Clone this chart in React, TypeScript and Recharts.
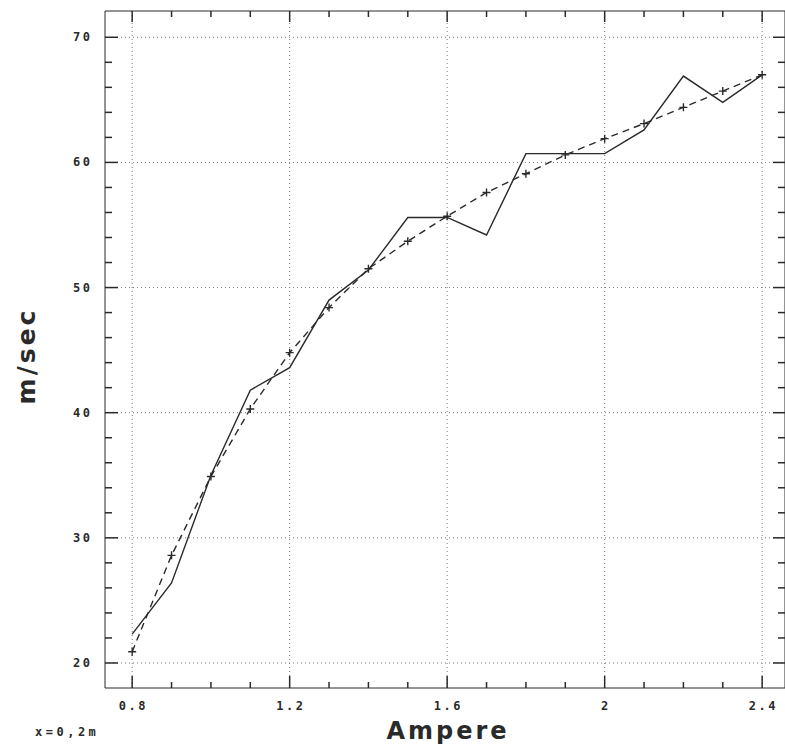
import { ComposedChart, Line, Scatter, XAxis, YAxis, CartesianGrid } from 'recharts';

// current in ampere, measured speed and fitted curve (m/sec)
const amps = [0.8, 0.9, 1.0, 1.1, 1.2, 1.3, 1.4, 1.5, 1.6, 1.7, 1.8, 1.9, 2.0, 2.1, 2.2, 2.3, 2.4];
const measured = [22.3, 26.4, 35.0, 41.8, 43.6, 49.0, 51.4, 55.6, 55.6, 54.2, 60.7, 60.7, 60.7, 62.6, 66.9, 64.8, 67.0];
const fitted = [20.9, 28.6, 34.9, 40.3, 44.8, 48.4, 51.5, 53.7, 55.7, 57.6, 59.1, 60.6, 61.9, 63.1, 64.4, 65.7, 67.0];

const xMajor = [0.8, 1.2, 1.6, 2, 2.4];
const xTicks = amps;
const yMajor = [20, 30, 40, 50, 60, 70];
const yTicks = [20, 22, 24, 26, 28, 30, 32, 34, 36, 38, 40, 42, 44, 46, 48, 50, 52, 54, 56, 58, 60, 62, 64, 66, 68, 70];

const data = amps.map((a, i) => ({ ampere: a, measured: measured[i], fitted: fitted[i] }));

const X0 = 0.731;
const X1 = 2.458;
const Y0 = 18;
const Y1 = 72.1;

const isXMajor = (v: number) => xMajor.some((m) => Math.abs(m - v) < 1e-6);
const isYMajor = (v: number) => yMajor.includes(v);

// tick marks as scatter points sitting on the frame, drawn inward by their shape
const bottomMarks = xTicks.map((v) => ({ ampere: v, tick: Y0, major: isXMajor(v) }));
const topMarks = xTicks.map((v) => ({ ampere: v, tick: Y1, major: isXMajor(v) }));
const leftMarks = yTicks.map((v) => ({ ampere: X0, tick: v, major: isYMajor(v) }));
const rightMarks = yTicks.map((v) => ({ ampere: X1, tick: v, major: isYMajor(v) }));

const INK = '#2a2a2a';
const MONO = '"DejaVu Sans Mono", monospace';
const SANS = '"DejaVu Sans", sans-serif';
const SPACING = 2.5;
const tickText = { fontFamily: MONO, fontWeight: 700, fontSize: 12, letterSpacing: SPACING };

function markShape(side: 'left' | 'right' | 'top' | 'bottom') {
    return (props: any) => {
        const x = Number(props.cx);
        const y = Number(props.cy);
        const major = props.payload ? props.payload.major : false;
        let d = '';
        if (side === 'bottom') d = `M${x},${y}V${y - (major ? 12 : 6)}`;
        else if (side === 'top') d = `M${x},${y}V${y + (major ? 11 : 6)}`;
        else if (side === 'left') d = `M${x},${y}H${x + (major ? 13 : 7)}`;
        else d = `M${x},${y}H${x - (major ? 12 : 7)}`;
        return <path d={d} stroke={INK} strokeWidth={1.5} fill="none" />;
    };
}

const BottomLabel = (props: any) => {
    const v = props.payload.value;
    if (!isXMajor(v)) return <g />;
    return (
        <text x={Number(props.x) + SPACING / 2} y={Number(props.y) + 22} textAnchor="middle" fill={INK} style={tickText}>
            {String(v)}
        </text>
    );
};

const LeftLabel = (props: any) => {
    const v = props.payload.value;
    if (!isYMajor(v)) return <g />;
    return (
        <text x={Number(props.x) - 15 + SPACING} y={Number(props.y) + 4} textAnchor="end" fill={INK} style={tickText}>
            {String(v)}
        </text>
    );
};

const PlusDot = (props: any) => {
    const { cx, cy, index } = props;
    return (
        <path
            key={`p-${index}`}
            d={`M${cx - 4},${cy}h8M${cx},${cy - 4}v8`}
            stroke={INK}
            strokeWidth={1.4}
            fill="none"
        />
    );
};

export default function App() {
    return (
        <div
            style={{
                position: 'absolute',
                left: 0,
                top: 0,
                width: 785,
                height: 750,
                overflow: 'hidden',
                background: '#fff',
            }}
        >
            <ComposedChart width={800} height={750} data={data} margin={{ top: 0, right: 0, bottom: 0, left: 45 }}>
                <CartesianGrid
                    xAxisId="xb"
                    yAxisId="yl"
                    verticalValues={xMajor}
                    horizontalValues={yMajor}
                    stroke="#7a7a7a"
                    strokeDasharray="1 3"
                />
                <XAxis
                    xAxisId="xb"
                    dataKey="ampere"
                    type="number"
                    domain={[X0, X1]}
                    allowDataOverflow
                    ticks={xTicks}
                    interval={0}
                    height={62}
                    tickSize={0}
                    tickMargin={0}
                    stroke={INK}
                    tick={BottomLabel}
                />
                <XAxis
                    xAxisId="xt"
                    dataKey="ampere"
                    orientation="top"
                    type="number"
                    domain={[X0, X1]}
                    allowDataOverflow
                    height={11}
                    tick={false}
                    tickLine={false}
                    stroke={INK}
                />
                <YAxis
                    yAxisId="yl"
                    type="number"
                    domain={[Y0, Y1]}
                    allowDataOverflow
                    ticks={yTicks}
                    interval={0}
                    width={60}
                    tickSize={0}
                    tickMargin={0}
                    stroke={INK}
                    tick={LeftLabel}
                />
                <YAxis
                    yAxisId="yr"
                    orientation="right"
                    type="number"
                    domain={[Y0, Y1]}
                    allowDataOverflow
                    width={15}
                    tick={false}
                    tickLine={false}
                    stroke={INK}
                />
                <Scatter xAxisId="xb" yAxisId="yl" data={bottomMarks} dataKey="tick" shape={markShape('bottom')} isAnimationActive={false} />
                <Scatter xAxisId="xb" yAxisId="yl" data={topMarks} dataKey="tick" shape={markShape('top')} isAnimationActive={false} />
                <Scatter xAxisId="xb" yAxisId="yl" data={leftMarks} dataKey="tick" shape={markShape('left')} isAnimationActive={false} />
                <Scatter xAxisId="xb" yAxisId="yl" data={rightMarks} dataKey="tick" shape={markShape('right')} isAnimationActive={false} />
                <Line
                    xAxisId="xb"
                    yAxisId="yl"
                    type="linear"
                    dataKey="measured"
                    stroke={INK}
                    strokeWidth={1.4}
                    dot={false}
                    activeDot={false}
                    isAnimationActive={false}
                />
                <Line
                    xAxisId="xb"
                    yAxisId="yl"
                    type="linear"
                    dataKey="fitted"
                    stroke={INK}
                    strokeWidth={1.4}
                    strokeDasharray="7 5"
                    dot={PlusDot}
                    activeDot={false}
                    isAnimationActive={false}
                />
            </ComposedChart>
            <div
                style={{
                    position: 'absolute',
                    left: 448,
                    top: 717,
                    transform: 'translateX(-50%)',
                    fontFamily: SANS,
                    fontWeight: 700,
                    fontSize: 24,
                    letterSpacing: 3,
                    color: INK,
                    whiteSpace: 'nowrap',
                }}
            >
                Ampere
            </div>
            <div
                style={{
                    position: 'absolute',
                    left: 35,
                    top: 725,
                    fontFamily: MONO,
                    fontWeight: 700,
                    fontSize: 12,
                    letterSpacing: 3.5,
                    color: INK,
                    whiteSpace: 'nowrap',
                }}
            >
                x=0,2m
            </div>
            <div
                style={{
                    position: 'absolute',
                    left: 26,
                    top: 356,
                    transform: 'translate(-50%, -50%) rotate(-90deg)',
                    fontFamily: SANS,
                    fontWeight: 700,
                    fontSize: 25,
                    letterSpacing: 3,
                    color: INK,
                    whiteSpace: 'nowrap',
                }}
            >
                m/sec
            </div>
        </div>
    );
}
